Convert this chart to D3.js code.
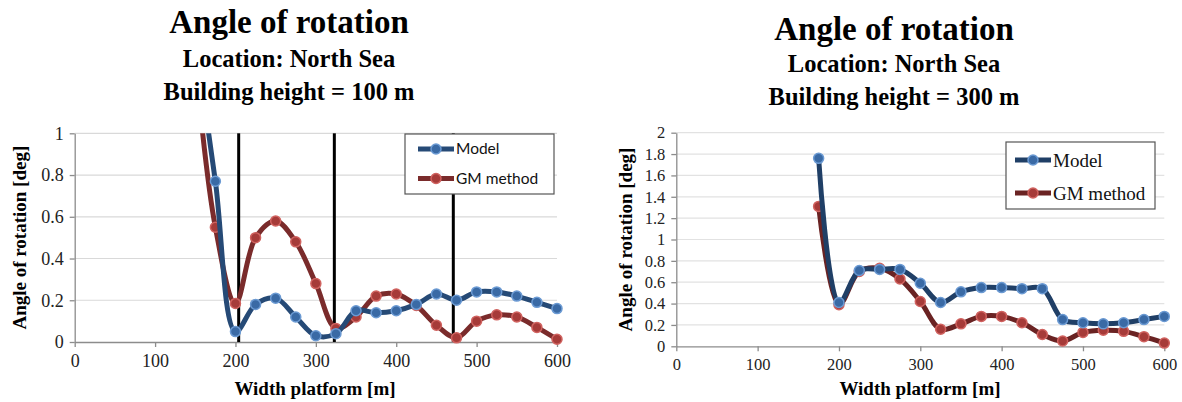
<!DOCTYPE html>
<html>
<head>
<meta charset="utf-8">
<script src="https://cdn.jsdelivr.net/npm/d3@7"></script>
<style>
  body { margin: 0; background: #fff; }
  svg { display: block; }
</style>
</head>
<body>
<svg id="chart" width="1182" height="402"></svg>
<script>
// ---- data ----
const widths100 = [150, 175, 200, 225, 250, 275, 300, 325, 350, 375, 400, 425, 450, 475, 500, 525, 550, 575, 600];
const model100  = [1.45, 0.77, 0.05, 0.18, 0.21, 0.12, 0.03, 0.04, 0.15, 0.14, 0.15, 0.18, 0.23, 0.20, 0.24, 0.24, 0.22, 0.19, 0.16];
const gm100     = [1.35, 0.55, 0.185, 0.50, 0.58, 0.48, 0.28, 0.065, 0.12, 0.22, 0.23, 0.175, 0.08, 0.02, 0.10, 0.13, 0.12, 0.07, 0.013];
const borders100 = [204, 323, 471];

const widths300 = [175, 200, 225, 250, 275, 300, 325, 350, 375, 400, 425, 450, 475, 500, 525, 550, 575, 600];
const model300  = [1.76, 0.41, 0.71, 0.72, 0.72, 0.59, 0.41, 0.51, 0.55, 0.55, 0.54, 0.54, 0.25, 0.22, 0.21, 0.22, 0.25, 0.28];
const gm300     = [1.31, 0.39, 0.70, 0.73, 0.63, 0.42, 0.16, 0.21, 0.28, 0.28, 0.22, 0.11, 0.05, 0.13, 0.15, 0.14, 0.09, 0.03];

const xTicks = [0, 100, 200, 300, 400, 500, 600];
const yTicks100 = [0, 0.2, 0.4, 0.6, 0.8, 1];
const yTicks300 = [0, 0.2, 0.4, 0.6, 0.8, 1, 1.2, 1.4, 1.6, 1.8, 2];
const seriesNames = ["Model", "GM method"];

const svg = d3.select("#chart");
const serif = "'Liberation Serif', 'Times New Roman', serif";

function drawChart(cfg) {
  const g = svg.append("g");

  const x = d3.scaleLinear().domain([0, 600]).range([cfg.left, cfg.right]);
  const y = d3.scaleLinear().domain([0, cfg.yMax]).range([cfg.bottom, cfg.top]);

  // titles
  const titles = [
    { t: "Angle of rotation", size: 33, y: cfg.titleY[0] },
    { t: "Location: North Sea", size: 24.5, y: cfg.titleY[1] },
    { t: cfg.sub, size: 24.5, y: cfg.titleY[2] }
  ];
  g.selectAll("text.title").data(titles).join("text")
    .attr("class", "title")
    .attr("x", cfg.titleX)
    .attr("y", d => d.y)
    .attr("text-anchor", "middle")
    .style("font-family", serif)
    .style("font-weight", "bold")
    .style("font-size", d => d.size + "px")
    .text(d => d.t);

  // gridlines
  g.selectAll("line.grid").data(cfg.yTicks.slice(1)).join("line")
    .attr("x1", cfg.left).attr("x2", cfg.right)
    .attr("y1", d => y(d)).attr("y2", d => y(d))
    .attr("stroke", cfg.gridColor).attr("stroke-width", 1.2);

  // y axis
  const yAxis = g.append("g")
    .attr("transform", `translate(${cfg.left},0)`)
    .call(d3.axisLeft(y).tickValues(cfg.yTicks).tickFormat(d3.format("~g")).tickSize(5).tickPadding(6).tickSizeOuter(0));
  // x axis
  const xAxis = g.append("g")
    .attr("transform", `translate(0,${cfg.bottom})`)
    .call(d3.axisBottom(x).tickValues(xTicks).tickSize(5).tickPadding(7).tickSizeOuter(0));
  [yAxis, xAxis].forEach(a => {
    a.attr("font-family", serif).attr("font-size", cfg.tickSize);
    a.select(".domain").attr("stroke", "#8c8c8c").attr("stroke-width", 1.3);
    a.selectAll(".tick line").attr("stroke", "#8c8c8c").attr("stroke-width", 1.3);
    a.selectAll(".tick text")
      .style("font-family", serif)
      .style("font-size", cfg.tickSize + "px")
      .attr("fill", "#222");
  });

  // axis titles
  g.append("text")
    .attr("transform", `translate(${cfg.yTitleX},${(cfg.top + cfg.bottom) / 2}) rotate(-90)`)
    .attr("text-anchor", "middle")
    .style("font-family", serif).style("font-weight", "bold").style("font-size", "19px")
    .text("Angle of rotation [deg]");
  g.append("text")
    .attr("x", cfg.xTitleX).attr("y", 395)
    .attr("text-anchor", "middle")
    .style("font-family", serif).style("font-weight", "bold").style("font-size", "19px")
    .text("Width platform [m]");

  // clip to plot area
  const clipId = "clip" + cfg.id;
  g.append("clipPath").attr("id", clipId)
    .append("rect")
    .attr("x", cfg.left - 10).attr("y", cfg.top)
    .attr("width", cfg.right - cfg.left + 20).attr("height", cfg.bottom - cfg.top + 10);

  // vertical border lines
  g.selectAll("line.border").data(cfg.borders || []).join("line")
    .attr("x1", d => x(d)).attr("x2", d => x(d))
    .attr("y1", cfg.top).attr("y2", cfg.bottom)
    .attr("stroke", "#000").attr("stroke-width", 3);

  const plot = g.append("g").attr("clip-path", `url(#${clipId})`);
  const line = d3.line().curve(d3.curveCatmullRom.alpha(0.5))
    .x(d => x(d[0])).y(d => y(d[1]));

  const series = [
    { name: seriesNames[0], pts: d3.zip(cfg.widths, cfg.model), line: cfg.blueLine, fill: "#3a6aa5", edge: "#6b9ad3" },
    { name: seriesNames[1], pts: d3.zip(cfg.widths, cfg.gm), line: cfg.redLine, fill: "#a63b39", edge: "#d0625f" }
  ];
  // draw GM first so model sits on top where they overlap
  [series[1], series[0]].forEach(s => {
    plot.append("path")
      .attr("d", line(s.pts))
      .attr("fill", "none")
      .attr("stroke", s.line)
      .attr("stroke-width", 5)
      .attr("stroke-linejoin", "round");
    plot.selectAll(null).data(s.pts).join("circle")
      .attr("cx", d => x(d[0])).attr("cy", d => y(d[1]))
      .attr("r", 5)
      .attr("fill", s.fill)
      .attr("stroke", s.edge)
      .attr("stroke-width", 1.5);
  });

  // legend
  const L = cfg.legend;
  const leg = g.append("g");
  leg.append("rect")
    .attr("x", L.x).attr("y", L.y).attr("width", L.w).attr("height", L.h)
    .attr("fill", "#fff").attr("stroke", "#555").attr("stroke-width", 1.2);
  series.forEach((s, i) => {
    const ly = L.rows[i];
    leg.append("line")
      .attr("x1", L.lx).attr("x2", L.lx + 36).attr("y1", ly).attr("y2", ly)
      .attr("stroke", s.line).attr("stroke-width", 5);
    leg.append("circle")
      .attr("cx", L.lx + 18).attr("cy", ly).attr("r", 5)
      .attr("fill", s.fill).attr("stroke", s.edge).attr("stroke-width", 1.5);
    leg.append("text")
      .attr("x", L.lx + 38).attr("y", ly).attr("dy", "0.35em")
      .style("font-family", L.font).style("font-size", L.size + "px")
      .attr("fill", "#111")
      .text(s.name);
  });
}

drawChart({
  id: 1, sub: "Building height = 100 m",
  left: 74.7, right: 557, top: 133.3, bottom: 342, yMax: 1,
  yTicks: yTicks100, widths: widths100, model: model100, gm: gm100, borders: borders100,
  titleX: 289, titleY: [32.5, 67, 99.5], yTitleX: 26, xTitleX: 315, tickSize: 18,
  gridColor: "#d9d9d9", blueLine: "#264a76", redLine: "#7a2b2b",
  legend: { x: 405, y: 134, w: 149, h: 60, lx: 418, rows: [149, 178.5], font: "Lato, 'Liberation Sans', sans-serif", size: 15.5 }
});

drawChart({
  id: 2, sub: "Building height = 300 m",
  left: 676.3, right: 1164.3, top: 132.7, bottom: 346.3, yMax: 2,
  yTicks: yTicks300, widths: widths300, model: model300, gm: gm300, borders: [],
  titleX: 894, titleY: [39.5, 72, 104.5], yTitleX: 632, xTitleX: 920, tickSize: 16.5,
  gridColor: "#e2e2e2", blueLine: "#203f66", redLine: "#6a2323",
  legend: { x: 1006, y: 142, w: 149, h: 67, lx: 1015, rows: [160, 193], font: serif, size: 19 }
});
</script>
</body>
</html>
